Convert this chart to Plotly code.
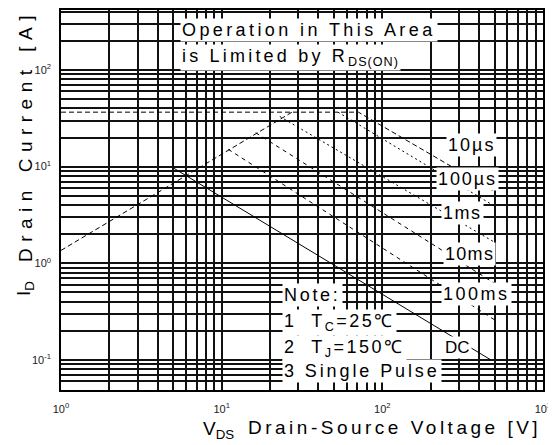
import plotly.graph_objects as go

# ---------------- data ----------------
rds_v = [1.0, 27.4]          # R_DS(on) limit
rds_i = [1.36, 36.6]
us10_v = [1.0, 71.0, 500.0]  # I_DM limit + 10 us
us10_i = [36.6, 36.6, 5.5]
us100_v = [53.0, 500.0]
us100_i = [36.6, 3.9]
ms1_v = [23.0, 500.0]
ms1_i = [33.0, 1.65]
ms10_v = [16.3, 500.0]
ms10_i = [22.4, 0.62]
ms100_v = [11.0, 500.0]
ms100_i = [15.1, 0.26]
dc_v = [5.0, 475.0]
dc_i = [9.7, 0.10]

x_ticks = [1, 10, 100, 1000]
x_ticktext = ["10<sup>0</sup>", "10<sup>1</sup>", "10<sup>2</sup>", "10<sup>3</sup>"]
y_ticks = [0.1, 1, 10, 100]
y_ticktext = ["10<sup>-1</sup>", "10<sup>0</sup>", "10<sup>1</sup>", "10<sup>2</sup>"]

FONT = "Liberation Sans, Arial, sans-serif"

x_minor = [m * 10 ** k for k in range(0, 3) for m in range(2, 10)]
y_minor = [m * 10 ** k for k in range(-2, 3) for m in range(2, 10)]

fig = go.Figure()

def add(v, i, dash, width=1.0):
    fig.add_trace(go.Scatter(x=v, y=i, mode="lines",
                             line=dict(color="black", width=width, dash=dash),
                             showlegend=False, hoverinfo="skip"))

add(rds_v, rds_i, "5px,3px")
add(us10_v, us10_i, "5px,3px")
add(us100_v, us100_i, "2px,3px")
add(ms1_v, ms1_i, "2px,3px")
add(ms10_v, ms10_i, "4px,4px")
add(ms100_v, ms100_i, "4px,4px")
add(dc_v, dc_i, "solid")

# the page body has an 8px margin, so the figure is offset by 8px
OFF = 8
FW, FH = 556 - OFF, 445 - OFF
# plot area in page pixels: x 61..543, y 10..390
L, R, T, B = 61, 543, 10, 390
def px(x):
    return (x - L) / (R - L)
def py(y):
    return (B - y) / (B - T)
def sp(text, s):
    return f'<span style="letter-spacing:{s}px">{text}</span>'

ann = []
def label(text, x, y, size=18, bg="white", angle=0, xanchor="left"):
    ann.append(dict(text=text, x=px(x), y=py(y), xref="paper", yref="paper",
                    xanchor=xanchor, yanchor="middle", showarrow=False,
                    textangle=angle, font=dict(family=FONT, size=size, color="black"),
                    bgcolor=bg, borderpad=1))

label(sp("Operation in This Area", 3.4), 180, 30)
label(sp("is Limited by R", 3.2) + "<sub>" + sp("DS(ON)", 1) + "</sub>", 180, 58)
label(sp("10µs", 2), 446, 144.5)
label(sp("100µs", 1.9), 436, 179)
label(sp("1ms", 1.5), 441, 213.5)
label(sp("10ms", 1.3), 443, 254)
label(sp("100ms", 2.5), 441, 294)
label("DC", 443, 347.5, size=17)
label(sp("Note:", 2.7), 282, 295)
label(sp("1  T<sub>C</sub>=25℃", 2.5), 282, 322)
label(sp("2  T<sub>J</sub>=150℃", 2.5), 282, 348)
label(sp("3 Single Pulse", 2.9), 282, 370.5)

# axis titles
label(sp("Drain Current [A]", 6.5), 25, 136, size=19, bg=None, angle=-90, xanchor="center")
label("I<sub>D</sub>", 25, 289, size=19, bg=None, angle=-90, xanchor="center")
label("V<sub>DS</sub>", 201, 429.5, size=19, bg=None)
label(sp("Drain-Source Voltage [V]", 3.5), 246, 427.5, size=19, bg=None)

grid = dict(showgrid=True, gridcolor="#111", gridwidth=2)
fig.update_layout(
    width=FW, height=FH,
    margin=dict(l=L - OFF, r=FW - (R - OFF), t=T - OFF, b=FH - (B - OFF)),
    paper_bgcolor="white", plot_bgcolor="white",
    template="none",
    annotations=ann,
    xaxis=dict(type="log", range=[0, 3], tickmode="array", tickvals=x_ticks,
               ticktext=x_ticktext, ticks="", ticklabelstandoff=8,
               tickfont=dict(family=FONT, size=11, color="#222"),
               showline=True, linecolor="black", linewidth=1.5, mirror=True,
               zeroline=False, automargin=False,
               minor=dict(tickmode="array", tickvals=x_minor, **grid), **grid),
    yaxis=dict(type="log", range=[-1.31, 2.62], tickmode="array", tickvals=y_ticks,
               ticktext=y_ticktext, ticks="", ticklabelstandoff=6,
               tickfont=dict(family=FONT, size=11, color="#222"),
               showline=True, linecolor="black", linewidth=1.5, mirror=True,
               zeroline=False, automargin=False,
               minor=dict(tickmode="array", tickvals=y_minor, **grid), **grid),
)

fig.write_html("out.html")
